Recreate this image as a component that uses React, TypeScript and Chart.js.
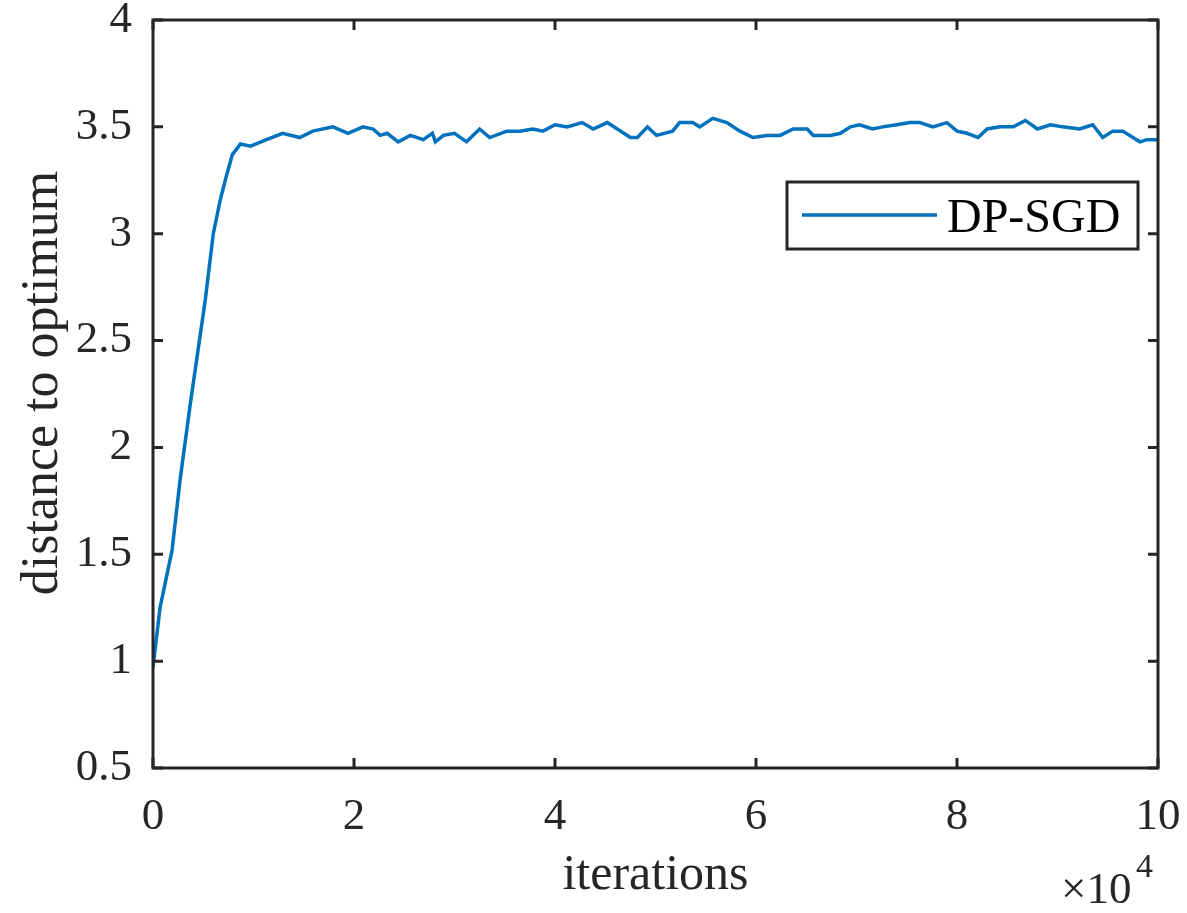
import React, { useEffect, useRef } from "react";
import { Chart, registerables } from "chart.js";

Chart.register(...registerables);

// iterations in units of 10^4
const iterations: number[] = [
  0, 0.07, 0.19, 0.27, 0.37, 0.52, 0.6, 0.67, 0.73, 0.79, 0.87,
  0.97, 1.13, 1.29, 1.46, 1.59, 1.79, 1.94, 2.09, 2.19, 2.26, 2.33, 2.44,
  2.56, 2.69, 2.78, 2.81, 2.89, 3.0, 3.12, 3.25, 3.35, 3.52, 3.65, 3.78,
  3.88, 4.0, 4.12, 4.27, 4.38, 4.52, 4.62, 4.75, 4.82, 4.92, 5.01, 5.17,
  5.24, 5.37, 5.44, 5.57, 5.71, 5.84, 5.97, 6.11, 6.24, 6.37, 6.51, 6.57,
  6.74, 6.84, 6.94, 7.03, 7.16, 7.26, 7.4, 7.53, 7.63, 7.76, 7.9, 8.0,
  8.1, 8.21, 8.3, 8.43, 8.56, 8.68, 8.8, 8.93, 9.05, 9.22, 9.35, 9.45,
  9.55, 9.65, 9.75, 9.82, 9.89, 10.0,
];

const distance: number[] = [
  0.97, 1.25, 1.52, 1.85, 2.2, 2.69, 3.0, 3.16, 3.27, 3.37, 3.42,
  3.41, 3.44, 3.47, 3.45, 3.48, 3.5, 3.47, 3.5, 3.49, 3.46, 3.47, 3.43,
  3.46, 3.44, 3.47, 3.43, 3.46, 3.47, 3.43, 3.49, 3.45, 3.48, 3.48, 3.49,
  3.48, 3.51, 3.5, 3.52, 3.49, 3.52, 3.49, 3.45, 3.45, 3.5, 3.46, 3.48,
  3.52, 3.52, 3.5, 3.54, 3.52, 3.48, 3.45, 3.46, 3.46, 3.49, 3.49, 3.46,
  3.46, 3.47, 3.5, 3.51, 3.49, 3.5, 3.51, 3.52, 3.52, 3.5, 3.52, 3.48,
  3.47, 3.45, 3.49, 3.5, 3.5, 3.53, 3.49, 3.51, 3.5, 3.49, 3.51, 3.45,
  3.48, 3.48, 3.45, 3.43, 3.44, 3.44,
];

const seriesLabel = "DP-SGD";
const xTicks: number[] = [0, 2, 4, 6, 8, 10];
const yTicks: number[] = [0.5, 1, 1.5, 2, 2.5, 3, 3.5, 4];
const xTitle = "iterations";
const yTitle = "distance to optimum";

const AXIS_COLOR = "#262626";
const LINE_COLOR = "#0072BD";
const FONT = "'Liberation Serif', 'Times New Roman', serif";

const framePlugin = {
  id: "matlabFrame",
  afterDraw(chart: any) {
    const { ctx, chartArea } = chart;
    const { left, right, top, bottom } = chartArea;
    const xs = chart.scales.x;
    const ys = chart.scales.y;
    ctx.save();
    ctx.strokeStyle = AXIS_COLOR;
    ctx.lineWidth = 3;
    ctx.strokeRect(left, top, right - left, bottom - top);
    const tl = 10;
    ctx.beginPath();
    for (const v of xTicks) {
      const px = xs.getPixelForValue(v);
      ctx.moveTo(px, bottom);
      ctx.lineTo(px, bottom - tl);
      ctx.moveTo(px, top);
      ctx.lineTo(px, top + tl);
    }
    for (const v of yTicks) {
      const py = ys.getPixelForValue(v);
      ctx.moveTo(left, py);
      ctx.lineTo(left + tl, py);
      ctx.moveTo(right, py);
      ctx.lineTo(right - tl, py);
    }
    ctx.stroke();

    // axis titles
    ctx.fillStyle = AXIS_COLOR;
    ctx.textAlign = "center";
    ctx.textBaseline = "alphabetic";
    ctx.font = `50px ${FONT}`;
    ctx.fillText(xTitle, (left + right) / 2, 889);
    ctx.save();
    ctx.translate(57, 383);
    ctx.rotate(-Math.PI / 2);
    ctx.font = `52px ${FONT}`;
    ctx.fillText(yTitle, 0, 0);
    ctx.restore();

    // exponent label
    ctx.textAlign = "left";
    ctx.font = `45px ${FONT}`;
    ctx.fillText("\u00d710", 1061, 903);
    ctx.font = `34px ${FONT}`;
    ctx.fillText("4", 1136, 877);

    // legend
    const bx = 787, by = 182, bw = 351, bh = 67;
    ctx.fillStyle = "#ffffff";
    ctx.fillRect(bx, by, bw, bh);
    ctx.lineWidth = 3;
    ctx.strokeStyle = AXIS_COLOR;
    ctx.strokeRect(bx, by, bw, bh);
    ctx.strokeStyle = LINE_COLOR;
    ctx.lineWidth = 3.5;
    ctx.beginPath();
    ctx.moveTo(802, 215);
    ctx.lineTo(937, 215);
    ctx.stroke();
    ctx.fillStyle = "#000000";
    ctx.font = `48px ${FONT}`;
    ctx.textBaseline = "alphabetic";
    ctx.fillText(chart.data.datasets[0].label, 947, 232);
    ctx.restore();
  },
};

export default function App() {
  const ref = useRef<HTMLCanvasElement | null>(null);
  useEffect(() => {
    if (!ref.current) return;
    const chart = new Chart(ref.current, {
      type: "line",
      data: {
        datasets: [
          {
            label: seriesLabel,
            data: iterations.map((x, i) => ({ x, y: distance[i] })),
            borderColor: LINE_COLOR,
            borderWidth: 3.5,
            pointRadius: 0,
            tension: 0,
            fill: false,
          },
        ],
      },
      options: {
        animation: false,
        responsive: false,
        maintainAspectRatio: false,
        layout: { padding: { left: 0, right: 29, top: 20, bottom: 0 } },
        plugins: {
          legend: { display: false },
          tooltip: { enabled: false },
        },
        scales: {
          x: {
            type: "linear",
            min: 0,
            max: 10,
            grid: { display: false, drawTicks: false },
            border: { display: false },
            afterBuildTicks: (s: any) => {
              s.ticks = xTicks.map((v) => ({ value: v }));
            },
            afterFit: (s: any) => {
              s.height = 145;
              s.paddingLeft = 0;
              s.paddingRight = 0;
            },
            ticks: {
              color: AXIS_COLOR,
              font: { family: FONT, size: 45, lineHeight: 1 },
              padding: 27,
              maxRotation: 0,
              autoSkip: false,
              callback: (v: any) => String(v),
            },
          },
          y: {
            type: "linear",
            min: 0.5,
            max: 4,
            grid: { display: false, drawTicks: false },
            border: { display: false },
            afterBuildTicks: (s: any) => {
              s.ticks = yTicks.map((v) => ({ value: v }));
            },
            afterFit: (s: any) => {
              s.width = 153;
              s.paddingTop = 0;
              s.paddingBottom = 0;
            },
            ticks: {
              color: AXIS_COLOR,
              font: { family: FONT, size: 45, lineHeight: 0.8 },
              padding: 21,
              autoSkip: false,
              callback: (v: any) => String(v),
            },
          },
        },
      },
      plugins: [framePlugin],
    });
    return () => chart.destroy();
  }, []);
  return (
    <div style={{ position: "fixed", left: 0, top: 0, width: 1187, height: 913, background: "#fff" }}>
      <canvas ref={ref} width={1187} height={913} style={{ width: 1187, height: 913 }} />
    </div>
  );
}
